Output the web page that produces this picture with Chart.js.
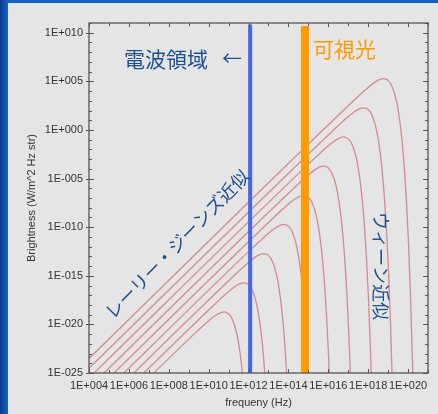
<!DOCTYPE html>
<html>
<head>
<meta charset="utf-8">
<script src="https://cdn.jsdelivr.net/npm/chart.js@4.4.1/dist/chart.umd.min.js"></script>
<style>
  html, body { margin: 0; padding: 0; }
  body {
    width: 438px; height: 414px; overflow: hidden; position: relative;
    background: linear-gradient(to right, #0b3c90 0px, #1862c6 8px);
  }
  #panel { position: absolute; left: 8px; top: 3px; right: 0; bottom: 0; background: #e5e5e5; }
  #chart { position: absolute; left: 0; top: 0; }
</style>
</head>
<body>
<div id="panel"></div>
<canvas id="chart" width="438" height="414"></canvas>
<script>
// Blackbody curves: [log10 frequency (Hz), log10 brightness]
const bb1K = [[4, -31.51], [9.32, -20.90], [9.82, -19.95], [10.32, -19.11], [10.62, -18.78], [10.77, -18.72],
  [10.92, -18.80], [11.02, -18.95], [11.17, -19.40], [11.32, -20.22], [11.42, -21.04], [11.52, -22.16],
  [11.62, -23.64], [11.72, -25.58]];
const bb10K = [[4, -30.51], [10.32, -17.90], [10.82, -16.95], [11.32, -16.11], [11.62, -15.78], [11.77, -15.72],
  [11.92, -15.80], [12.02, -15.95], [12.17, -16.40], [12.32, -17.22], [12.42, -18.04], [12.52, -19.16],
  [12.62, -20.64], [12.72, -22.58], [12.82, -25.11]];
const bb100K = [[4, -29.51], [11.32, -14.90], [11.82, -13.95], [12.32, -13.11], [12.62, -12.78], [12.77, -12.72],
  [12.92, -12.80], [13.02, -12.95], [13.17, -13.40], [13.32, -14.22], [13.42, -15.04], [13.52, -16.16],
  [13.62, -17.64], [13.72, -19.58], [13.82, -22.11], [13.92, -25.37]];
const bb1e3K = [[4, -28.51], [12.32, -11.90], [12.82, -10.95], [13.32, -10.11], [13.62, -9.78], [13.77, -9.72],
  [13.92, -9.80], [14.02, -9.95], [14.17, -10.40], [14.32, -11.22], [14.42, -12.04], [14.52, -13.16],
  [14.62, -14.64], [14.72, -16.58], [14.82, -19.11], [14.92, -22.37], [15.02, -26.54]];
const bb1e4K = [[4, -27.51], [13.32, -8.90], [13.82, -7.95], [14.32, -7.11], [14.62, -6.78], [14.77, -6.72],
  [14.92, -6.80], [15.02, -6.95], [15.17, -7.40], [15.32, -8.22], [15.42, -9.04], [15.52, -10.16],
  [15.62, -11.64], [15.72, -13.58], [15.82, -16.11], [15.92, -19.37], [16.02, -23.54], [16.12, -28.88]];
const bb1e5K = [[4, -26.51], [14.32, -5.90], [14.82, -4.95], [15.32, -4.11], [15.62, -3.78], [15.77, -3.72],
  [15.92, -3.80], [16.02, -3.95], [16.17, -4.40], [16.32, -5.22], [16.42, -6.04], [16.52, -7.16],
  [16.62, -8.64], [16.72, -10.58], [16.82, -13.11], [16.92, -16.37], [17.02, -20.54], [17.12, -25.88]];
const bb1e6K = [[4, -25.51], [15.32, -2.90], [15.82, -1.95], [16.32, -1.11], [16.62, -0.78], [16.77, -0.72],
  [16.92, -0.80], [17.02, -0.95], [17.17, -1.40], [17.32, -2.22], [17.42, -3.04], [17.52, -4.16],
  [17.62, -5.64], [17.72, -7.58], [17.82, -10.11], [17.92, -13.37], [18.02, -17.54], [18.12, -22.88],
  [18.22, -29.68]];
const bb1e7K = [[4, -24.51], [16.32, 0.10], [16.82, 1.05], [17.32, 1.89], [17.62, 2.22], [17.77, 2.28],
  [17.92, 2.20], [18.02, 2.05], [18.17, 1.60], [18.32, 0.78], [18.42, -0.04], [18.52, -1.16],
  [18.62, -2.64], [18.72, -4.58], [18.82, -7.11], [18.92, -10.37], [19.02, -14.54], [19.12, -19.88],
  [19.22, -26.68]];
const bb1e8K = [[4, -23.51], [17.32, 3.10], [17.82, 4.05], [18.32, 4.89], [18.62, 5.22], [18.77, 5.28],
  [18.92, 5.20], [19.02, 5.05], [19.17, 4.60], [19.32, 3.78], [19.42, 2.96], [19.52, 1.84],
  [19.62, 0.36], [19.72, -1.58], [19.82, -4.11], [19.92, -7.37], [20.02, -11.54], [20.12, -16.88],
  [20.22, -23.68], [20.32, -32.31]];

// Band markers, log10 Hz, and their vertical extent (log10 brightness)
const radioEdge = 12.08;
const radioSpan = [-25, 10.85];
const visibleBand = 14.83;
const visibleSpan = [-25, 10.7];

// Axis decades and tick labels
const xTickExps = [4, 5, 6, 7, 8, 9, 10, 11, 12, 13, 14, 15, 16, 17, 18, 19, 20, 21];
const xLabelExps = [4, 6, 8, 10, 12, 14, 16, 18, 20];
const xTickLabels = ['1E+004', '1E+006', '1E+008', '1E+010', '1E+012', '1E+014', '1E+016', '1E+018', '1E+020'];
const yTickExps = [-25, -24, -23, -22, -21, -20, -19, -18, -17, -16, -15, -14, -13, -12, -11, -10, -9, -8,
  -7, -6, -5, -4, -3, -2, -1, 0, 1, 2, 3, 4, 5, 6, 7, 8, 9, 10, 11];
const yLabelExps = [-25, -20, -15, -10, -5, 0, 5, 10];
const yTickLabels = ['1E-025', '1E-020', '1E-015', '1E-010', '1E-005', '1E+000', '1E+005', '1E+010'];

const curves = [bb1K, bb10K, bb100K, bb1e3K, bb1e4K, bb1e5K, bb1e6K, bb1e7K, bb1e8K];
const toPoints = pairs => pairs.map(p => ({ x: 10 ** p[0], y: 10 ** p[1] }));

const axisFont = { family: 'Liberation Sans, Arial, sans-serif', size: 11 };
const jpFont = '"Noto Sans CJK JP", "Noto Sans", sans-serif';
const navy = '#1d4f91';

// Vertical markers first so they are drawn over the curves
const datasets = [
  {
    data: [{ x: 10 ** visibleBand, y: 10 ** visibleSpan[0] }, { x: 10 ** visibleBand, y: 10 ** visibleSpan[1] }],
    borderColor: '#ff9a00', borderWidth: 8, clip: 0
  },
  {
    data: [{ x: 10 ** radioEdge, y: 10 ** radioSpan[0] }, { x: 10 ** radioEdge, y: 10 ** radioSpan[1] }],
    borderColor: '#4466f4', borderWidth: 4, clip: 0
  },
  ...curves.map(c => ({
    data: toPoints(c),
    borderColor: '#d58a8f',
    borderWidth: 1.3,
    cubicInterpolationMode: 'monotone'
  }))
];

// Box frame with inward tick marks on all four sides
const frameTicks = {
  id: 'frameTicks',
  afterDraw(chart) {
    const { ctx, chartArea: a, scales: { x, y } } = chart;
    ctx.save();
    ctx.strokeStyle = '#555';
    ctx.lineWidth = 1;
    ctx.beginPath();
    for (const e of xTickExps) {
      const px = Math.round(x.getPixelForValue(10 ** e)) + 0.5;
      const len = xLabelExps.includes(e) ? 4 : 3;
      ctx.moveTo(px, a.bottom); ctx.lineTo(px, a.bottom - len);
      ctx.moveTo(px, a.top); ctx.lineTo(px, a.top + len);
    }
    for (const e of yTickExps) {
      const py = Math.round(y.getPixelForValue(10 ** e)) + 0.5;
      const major = yLabelExps.includes(e);
      ctx.moveTo(a.left - (major ? 3 : 0), py); ctx.lineTo(a.left + (major ? 5 : 3), py);
      ctx.moveTo(a.right, py); ctx.lineTo(a.right - (major ? 5 : 3), py);
    }
    ctx.stroke();
    ctx.lineWidth = 1.3;
    ctx.strokeRect(a.left, a.top, a.right - a.left, a.bottom - a.top);
    ctx.restore();
  }
};

// Japanese annotations
const notes = [
  { text: '電波領域', x: 124, y: 59, size: 21, color: navy, angle: 0, align: 'left' },
  { text: '←', x: 222, y: 58, size: 20, color: navy, angle: 0, align: 'left' },
  { text: '可視光', x: 313, y: 49, size: 21, color: '#ff9a00', angle: 0, align: 'left' },
  { text: 'レーリー・ジーンズ近似', x: 177, y: 244, size: 18, color: navy, angle: -46, align: 'center' },
  { text: 'ウィーン近似', x: 381, y: 266, size: 18, color: navy, angle: 90, align: 'center' }
];
const annotations = {
  id: 'annotations',
  afterDraw(chart) {
    const ctx = chart.ctx;
    for (const n of notes) {
      ctx.save();
      ctx.translate(n.x, n.y);
      ctx.rotate(n.angle * Math.PI / 180);
      ctx.font = `${n.size}px ${jpFont}`;
      ctx.fillStyle = n.color;
      ctx.textAlign = n.align;
      ctx.textBaseline = 'middle';
      ctx.fillText(n.text, 0, 0);
      ctx.restore();
    }
  }
};

new Chart(document.getElementById('chart'), {
  type: 'scatter',
  data: { datasets },
  options: {
    responsive: false,
    animation: false,
    showLine: true,
    layout: { padding: { top: 23, right: 10, left: 0, bottom: 0 } },
    plugins: { legend: { display: false }, tooltip: { enabled: false } },
    elements: { point: { radius: 0, hoverRadius: 0 } },
    scales: {
      x: {
        type: 'logarithmic',
        min: 1e4,
        max: 1e21,
        grid: { display: false, drawTicks: false },
        border: { display: false },
        afterBuildTicks: s => { s.ticks = xTickExps.map(e => ({ value: 10 ** e })); },
        afterFit: s => { s.height = 41; },
        ticks: {
          autoSkip: false, maxRotation: 0, padding: 6, color: '#333', font: axisFont,
          callback: v => {
            const i = xLabelExps.indexOf(Math.round(Math.log10(v)));
            return i >= 0 ? xTickLabels[i] : '';
          }
        },
        title: { display: true, text: 'frequeny (Hz)', color: '#333', font: axisFont, padding: { top: 0, bottom: 4 } }
      },
      y: {
        type: 'logarithmic',
        min: 1e-25,
        max: 1e11,
        grid: { display: false, drawTicks: false },
        border: { display: false },
        afterBuildTicks: s => { s.ticks = yTickExps.map(e => ({ value: 10 ** e })); },
        afterFit: s => { s.width = 89; },
        ticks: {
          autoSkip: false, padding: 6, color: '#333', font: axisFont,
          callback: v => {
            const i = yLabelExps.indexOf(Math.round(Math.log10(v)));
            return i >= 0 ? yTickLabels[i] : '';
          }
        },
        title: { display: true, text: 'Brightness (W/m^2 Hz str)', color: '#333', font: axisFont, padding: { top: 25, bottom: 0 } }
      }
    }
  },
  plugins: [frameTicks, annotations]
});
</script>
</body>
</html>
